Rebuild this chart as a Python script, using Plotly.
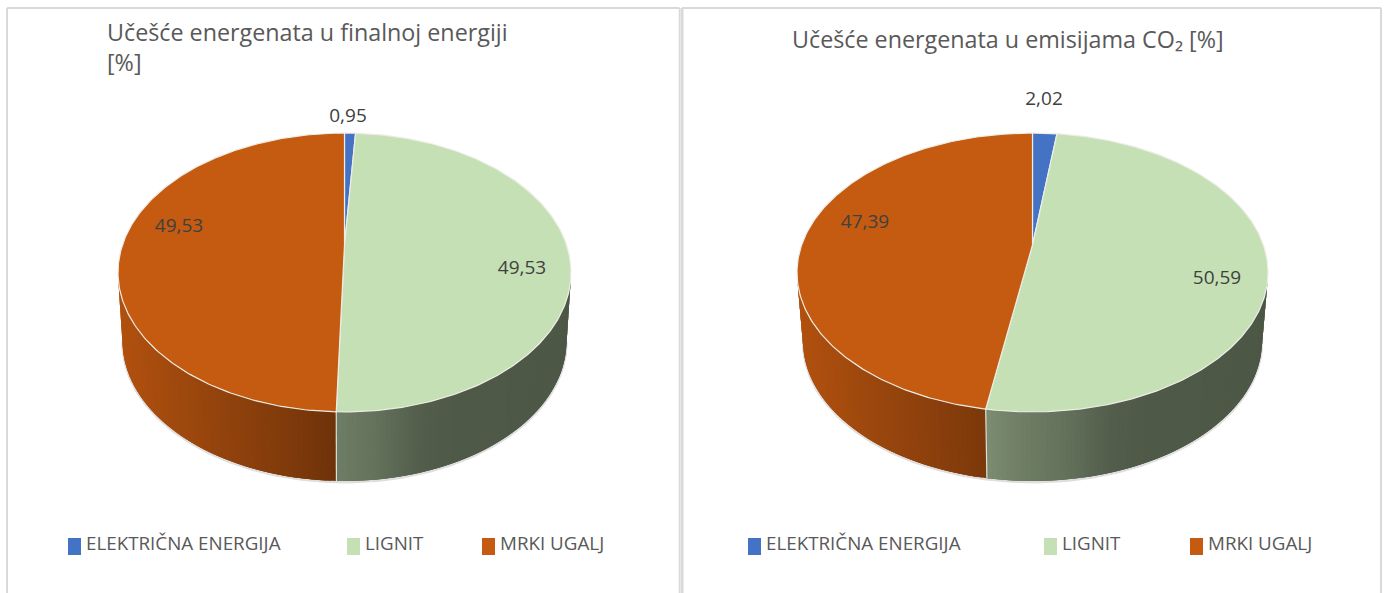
import math
import numpy as np
import plotly.graph_objects as go

# ---- data ----
categories = ["ELEKTRIČNA ENERGIJA", "LIGNIT", "MRKI UGALJ"]
final_energy = [0.95, 49.53, 49.53]
co2_emissions = [2.02, 50.59, 47.39]
title_final = "Učešće energenata u finalnoj energiji<br>[%]"
title_co2 = "Učešće energenata u emisijama CO₂ [%]"

# ---- styles ----
COLORS = ["#4472C4", "#C5E0B4", "#C55A11"]
TEXT = "#595959"
LABEL = "#404040"
BORDER = "#D9D9D9"
RIM = "#EDEDE6"
FONT = "Open Sans"
W, H = 1385, 593
K = 0.197                 # perspective of the tilted disc
SHADE_X = [-1.0, -0.66, -0.26, -0.04, 0.13, 0.33, 0.45, 1.0]
SHADE_V = [0.90, 0.78, 0.65, 0.56, 0.51, 0.42, 0.40, 0.39]

fig = go.Figure()


def shade(hexcol, f):
    r, g, b = [int(hexcol[i:i + 2], 16) for i in (1, 3, 5)]
    return f"rgb({r * f:.0f},{g * f:.0f},{b * f:.0f})"


def poly(xs, ys, fill, line=None, lw=0.0):
    fig.add_trace(go.Scatter(x=list(xs), y=list(ys), mode="lines", fill="toself",
                             fillcolor=fill, line=dict(color=line or fill, width=lw),
                             hoverinfo="skip", showlegend=False))


def draw_pie(values, cx, a, a2, apex_y=245.0, sy=134.0, top_mid=272.5, b=139.5,
             low_mid=341.0, b2=140.0):
    sx = a * math.sqrt(1 - K * K)

    def top(t):
        w = 1 + K * np.cos(t)
        return cx + sx * np.sin(t) / w, apex_y - sy * np.cos(t) / w

    def bottom(x):
        u = np.clip((x - cx) / a, -1, 1)
        return cx + u * a2, low_mid + b2 * np.sqrt(1 - u * u)

    total = sum(values)
    edges = np.cumsum([0] + list(values)) / total * 2 * math.pi
    t_ext = math.acos(-K)

    # soft edge under the wall
    tt = np.linspace(t_ext, 2 * math.pi - t_ext, 200)
    xb, yb = bottom(top(tt)[0])
    fig.add_trace(go.Scatter(x=xb, y=yb + 1.2, mode="lines",
                             line=dict(color="rgba(0,0,0,0.13)", width=2.5),
                             hoverinfo="skip", showlegend=False))

    seams = []
    # side wall: strips painted over one another, each one reaching under the next
    for i, col in enumerate(COLORS):
        t0, t1 = edges[i], edges[i + 1]
        ts = sorted(set(list(np.arange(t0, t1, math.radians(1.0))) + [t1] +
                        [e for e in (t_ext, 2 * math.pi - t_ext) if t0 < e < t1]))
        for j in range(len(ts) - 1):
            seg = np.array(ts[j:min(j + 4, len(ts))])
            xs, ys = top(seg)
            keep = ys >= top_mid - 1e-6
            if keep.sum() < 2:
                continue
            xs, ys = xs[keep], ys[keep]
            xb, yb = bottom(xs)
            mid = top(np.array([(ts[j] + ts[j + 1]) / 2]))[0][0]
            f = float(np.interp((mid - cx) / a, SHADE_X, SHADE_V))
            c = shade(col, f)
            poly([*xs, *xb[::-1], xs[0]], [*ys, *yb[::-1], ys[0]], c)
        xe, ye = top(np.array([t1]))
        if ye[0] > top_mid and i < len(COLORS) - 1:
            seams.append((xe[0], ye[0]))
    # seams between wall segments
    for xe, ye in seams:
        xb, yb = bottom(np.array([xe]))
        fig.add_trace(go.Scatter(x=[xe, xb[0]], y=[ye, yb[0]], mode="lines",
                                 line=dict(color="#DDE0D8", width=1.2),
                                 hoverinfo="skip", showlegend=False))
    # top face
    for i, col in enumerate(COLORS):
        ts = np.linspace(edges[i], edges[i + 1], max(3, int(values[i] * 5)))
        xs, ys = top(ts)
        poly([cx, *xs, cx], [apex_y, *ys, apex_y], col, RIM, 1.2)


draw_pie(final_energy, 344.5, 226.5, 222.0)
draw_pie(co2_emissions, 1032.5, 235.5, 229.5)

# panel frames
frames = [(7, 679.5, 2, 1.5), (682, 1381, 3, 2)]
for x0, x1, w0, w1 in frames:
    fig.add_shape(type="line", x0=x0, x1=x0, y0=8, y1=H, line=dict(color=BORDER, width=w0))
    fig.add_shape(type="line", x0=x1, x1=x1, y0=8, y1=H, line=dict(color=BORDER, width=w1))
    fig.add_shape(type="line", x0=x0, x1=x1, y0=8, y1=8, line=dict(color=BORDER, width=2))


def text(x, y, s, size, color, pos="middle center"):
    fig.add_trace(go.Scatter(x=[x], y=[y], text=[s], mode="text", textposition=pos,
                             textfont=dict(family=FONT, size=size, color=color),
                             hoverinfo="skip", showlegend=False))


def fmt(v):
    return f"{v:.2f}".replace(".", ",")


# data labels
label_pos_final = [(348, 117), (522, 269), (179, 227)]
label_pos_co2 = [(1044, 100), (1217, 279), (865, 223)]
for vals, pos in ((final_energy, label_pos_final), (co2_emissions, label_pos_co2)):
    for v, (x, y) in zip(vals, pos):
        text(x, y, fmt(v), 19, LABEL)

# legends
legend_final = [68, 347, 482]
legend_co2 = [748, 1044, 1190]
for xs in (legend_final, legend_co2):
    for x, name, col in zip(xs, categories, COLORS):
        poly([x, x + 13, x + 13, x, x], [538, 538, 555, 555, 538], col, col, 0)
        text(x + 18, 545.5, name, 18.8, TEXT, "middle right")

# titles
annotations = [
    dict(x=105, y=47, text=title_final),
    dict(x=790, y=39, text=title_co2),
]
for a in annotations:
    a.update(xref="x", yref="y", xanchor="left", yanchor="middle", align="left",
             showarrow=False, font=dict(family=FONT, size=23.3, color=TEXT))

fig.update_layout(
    width=W, height=H, margin=dict(l=0, r=0, t=0, b=0),
    paper_bgcolor="white", plot_bgcolor="white", showlegend=False, hovermode=False,
    annotations=annotations,
    xaxis=dict(range=[0, W], visible=False, fixedrange=True),
    yaxis=dict(range=[H, 0], visible=False, fixedrange=True),
)
fig.write_html("out.html", config=dict(displayModeBar=False),
               post_script="document.body.style.margin='0';document.body.style.overflow='hidden';")
